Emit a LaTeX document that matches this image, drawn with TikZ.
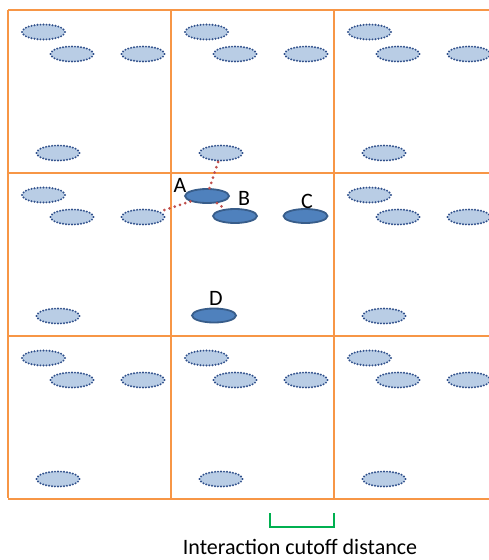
\documentclass[tikz,border=0pt]{standalone}
\usepackage{fontspec}
\setmainfont{Carlito}
\usetikzlibrary{shapes.geometric,positioning}
\definecolor{gridorange}{HTML}{F79646}
\definecolor{ghostfill}{HTML}{B9CDE5}
\definecolor{ghostdot}{HTML}{2F4F8A}
\definecolor{atomfill}{HTML}{4F81BD}
\definecolor{atomline}{HTML}{385D8A}
\definecolor{linkred}{HTML}{C0504D}
\definecolor{cutgreen}{HTML}{00B050}
\tikzset{
  cellline/.style={gridorange,line width=2.5pt},
  ghost/.style={ellipse,draw=ghostdot,fill=ghostfill,line width=2.2pt,line cap=round,dash pattern=on 0pt off 3pt,minimum width=43pt,minimum height=15pt,inner sep=0pt},
  atom/.style={ellipse,draw=atomline,fill=atomfill,line width=1.8pt,minimum width=44pt,minimum height=14pt,inner sep=0pt},
  link/.style={linkred,line width=3pt,line cap=round,dash pattern=on 0pt off 5.5pt},
  atomlabel/.style={font=\fontsize{22}{24}\selectfont,inner sep=0pt},
  cutoff/.style={cutgreen,line width=2.6pt}
}
\begin{document}
\begin{tikzpicture}[x=1pt,y=-1pt]
\useasboundingbox (0,0) rectangle (489,560);
\begin{scope}
\clip (0,0) rectangle (489,560);
% cell grid
\foreach \k in {0,1,2,3} {
  \draw[cellline] (8+163*\k,10) -- (8+163*\k,498);
  \draw[cellline] (8,10+163*\k) -- (500,10+163*\k);
}
% periodic images
\foreach \i in {0,1,2} {
  \foreach \j in {0,1,2} {
    \pgfmathtruncatemacro{\ctr}{(\i==1)&&(\j==1)}
    \ifnum\ctr=0
      \node[ghost] (g\i\j a) at (43.5+163*\i,32+163*\j) {};
      \node[ghost] (g\i\j b) at (72+163*\i,54+163*\j) {};
      \node[ghost] (g\i\j c) at (143+163*\i,54+163*\j) {};
      \node[ghost] (g\i\j d) at (58+163*\i,153+163*\j) {};
    \fi
  }
}
\end{scope}
% central cell
\node[atom] (A) at (207,196) {};
\node[atom] (B) at (235,216) {};
\node[atom] (C) at (305.5,216) {};
\node[atom] (D) at (214,315.5) {};
\node[atomlabel] (lA) at (180,185) {A};
\node[atomlabel] (lB) at (244,198) {B};
\node[atomlabel] (lC) at (307,201) {C};
\node[atomlabel] (lD) at (216,298) {D};
% neighbour links
\draw[link] (A) -- (g10d);
\draw[link] (A) -- (g01c);
\draw[link] (A) -- (B);
% cutoff bracket
\coordinate (cl) at (270,513);
\coordinate (cr) at (334,513);
\draw[cutoff] (cl) -- ++(0,14) -| (cr);
\node[font=\fontsize{22}{24}\selectfont,inner sep=0pt,anchor=base] (cuttext) at (300,554) {Interaction cutoff distance};
\end{tikzpicture}
\end{document}
